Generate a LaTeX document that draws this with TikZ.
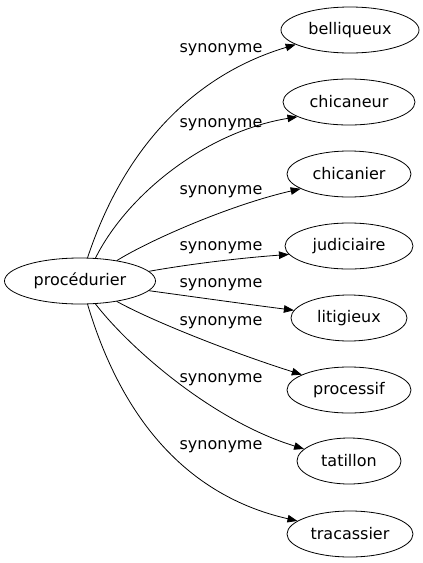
\documentclass[tikz,border=0pt]{standalone}
\usepackage{fontspec}
\setmainfont{DejaVu Sans}
\usetikzlibrary{arrows.meta,shapes.geometric}

\begin{document}
\begin{tikzpicture}[line cap=round,line join=round,>={Triangle[length=10pt,width=7.5pt]},x=1pt,y=-1pt,
    word/.style={draw,ellipse,line width=0.8pt,inner sep=0pt,minimum height=46pt,font=\fontsize{16}{19}\selectfont},
    syn/.style={inner sep=0pt,font=\fontsize{16}{19}\selectfont},
    link/.style={->,line width=0.8pt}]
    \useasboundingbox (0,0) rectangle (423,563);
    \node[word,minimum width=151pt] (proc) at (80,281) {procédurier};
    \node[word,minimum width=138pt] (bell) at (350,30) {belliqueux};
    \node[word,minimum width=132pt] (chicaneur) at (349,102) {chicaneur};
    \node[word,minimum width=124pt] (chicanier) at (349,174) {chicanier};
    \node[word,minimum width=128pt] (judi) at (349,246) {judiciaire};
    \node[word,minimum width=116pt] (liti) at (349,318) {litigieux};
    \node[word,minimum width=124pt] (proce) at (349,390) {processif};
    \node[word,minimum width=104pt] (tati) at (349,461) {tatillon};
    \node[word,minimum width=126pt] (traca) at (350,534) {tracassier};
    \node[syn] (s1) at (221,50) {synonyme};
    \node[syn] (s2) at (221,125) {synonyme};
    \node[syn] (s3) at (221,192) {synonyme};
    \node[syn] (s4) at (221,248) {synonyme};
    \node[syn] (s5) at (221,285) {synonyme};
    \node[syn] (s6) at (221,323) {synonyme};
    \node[syn] (s7) at (221,380) {synonyme};
    \node[syn] (s8) at (221,447) {synonyme};
    \draw [link] (proc.72) .. controls (130,130) and (210,70) .. (bell.195);
    \draw [link] (proc.56) .. controls (127,195) and (205,132) .. (chicaneur.196);
    \draw [link] (proc.29) .. controls (150,240) and (230,205) .. (chicanier.197);
    \draw [link] (proc.8) .. controls (190,264) and (240,258) .. (judi.188);
    \draw [link] (proc.-8) .. controls (195,297) and (245,304) .. (liti.172);
    \draw [link] (proc.-29) .. controls (150,320) and (230,352) .. (proce.162);
    \draw [link] (proc.-56) .. controls (127,345) and (210,420) .. (tati.165);
    \draw [link] (proc.-72) .. controls (128,440) and (205,500) .. (traca.166);
\end{tikzpicture}
\end{document}
